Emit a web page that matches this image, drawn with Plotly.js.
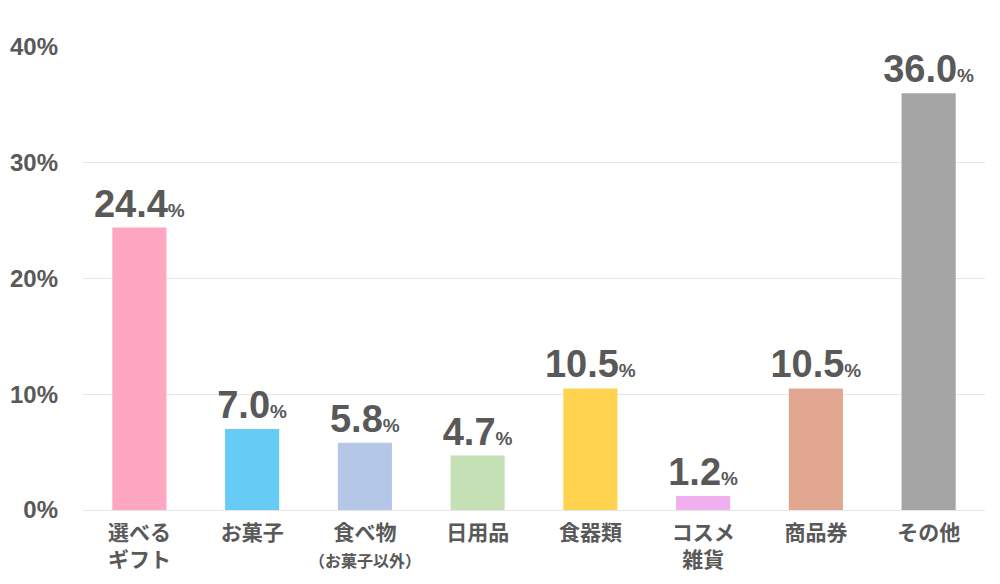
<!DOCTYPE html>
<html>
<head>
<meta charset="utf-8">
<script src="https://cdn.plot.ly/plotly-3.0.1.min.js"></script>
<style>
  body { margin: 0; background: #fff; }
  #myDiv { width: 1000px; height: 584px; }
</style>
</head>
<body>
<div id="myDiv"></div>
<script>
// values (percent)
var categories = ['選べる<br>ギフト', 'お菓子', '食べ物<br><span style="font-size:16px">（お菓子以外）</span>',
                  '日用品', '食器類', 'コスメ<br>雑貨', '商品券', 'その他'];
var shares = [24.4, 7.0, 5.8, 4.7, 10.5, 1.2, 10.5, 36.0];
var barColors = ['#FFA6C0', '#66CCF5', '#B4C7E7', '#C5E0B4', '#FFD34F', '#F0B0F0', '#E2A791', '#A5A5A5'];
var yTicks = [0, 10, 20, 30, 40];
var yTickText = ['0%', '10%', '20%', '30%', '40%'];

var fontFam = '"Liberation Sans", Arial, "Noto Sans CJK JP", sans-serif';

function drawChart() {
    var labels = shares.map(function (v) {
        return v.toFixed(1) + '<span style="font-size:19px">%</span>';
    });

    var data = [{
        x: categories,
        y: shares,
        type: 'bar',
        marker: { color: barColors },
        text: labels,
        textposition: 'outside',
        constraintext: 'none',
        textfont: { family: fontFam, size: 38, color: '#595959', weight: 'bold' },
        cliponaxis: false,
        hoverinfo: 'none'
    }];

    var layout = {
        width: 1000,
        height: 584,
        margin: { l: 83, r: 15, t: 47, b: 74 },
        paper_bgcolor: '#fff',
        plot_bgcolor: '#fff',
        showlegend: false,
        bargap: 0.52,
        font: { family: fontFam, color: '#595959' },
        xaxis: {
            tickfont: { family: '"Noto Sans CJK JP", sans-serif', size: 21, color: '#595959', weight: 'bold' },
            ticklabelstandoff: 8,
            showgrid: false,
            zeroline: false,
            showline: false,
            ticks: '',
            fixedrange: true
        },
        yaxis: {
            range: [0, 40],
            tickvals: yTicks,
            ticktext: yTickText,
            tickfont: { family: fontFam, size: 24, color: '#595959', weight: 'bold' },
            ticklabelstandoff: 24,
            showgrid: true,
            gridcolor: '#E6E6E6',
            gridwidth: 1,
            zeroline: true,
            zerolinecolor: '#E6E6E6',
            showline: false,
            ticks: '',
            fixedrange: true
        }
    };

    Plotly.newPlot('myDiv', data, layout, { displayModeBar: false, staticPlot: true });
}

drawChart();
</script>
</body>
</html>
